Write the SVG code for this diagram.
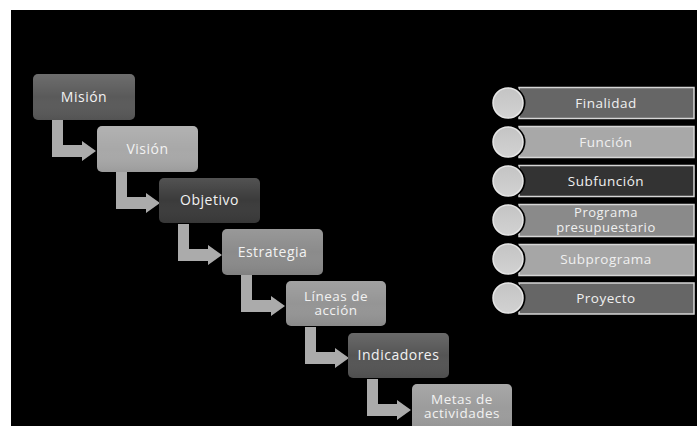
<svg xmlns="http://www.w3.org/2000/svg" width="697" height="426" viewBox="0 0 697 426">
<defs>
<style>
.box{stroke:none}
.lt{font-family:"Open Sans","Liberation Sans",sans-serif;font-size:14px;fill:#f2f2f2;text-anchor:middle;letter-spacing:0.5px}
.lt2{font-family:"Open Sans","Liberation Sans",sans-serif;font-size:13.5px;fill:#f2f2f2;text-anchor:middle;letter-spacing:0.5px}
.rt{font-family:"Open Sans","Liberation Sans",sans-serif;font-size:13.5px;fill:#f0f0f0;text-anchor:middle;letter-spacing:0.5px}
.rt2{font-family:"Open Sans","Liberation Sans",sans-serif;font-size:13px;fill:#f0f0f0;text-anchor:middle;letter-spacing:0.5px}
.arr{fill:#ababab}
.bar{stroke:#d6d6d6;stroke-width:1.5}
.ring{fill:#000}
.circ{fill:url(#cg);stroke:#e6e6e6;stroke-width:1.5}
</style>
<linearGradient id="sh" x1="0" y1="0" x2="0" y2="1">
<stop offset="0" stop-color="#fff" stop-opacity="0.12"/>
<stop offset="0.5" stop-color="#fff" stop-opacity="0"/>
<stop offset="1" stop-color="#000" stop-opacity="0.08"/>
</linearGradient>
<linearGradient id="cg" x1="0" y1="0" x2="0" y2="1">
<stop offset="0" stop-color="#c4c4c4"/>
<stop offset="1" stop-color="#d2d2d2"/>
</linearGradient>
</defs>
<rect x="0" y="0" width="697" height="426" fill="#fff"/>
<rect x="11" y="10" width="686" height="416" fill="#000"/>

<g id="connectors">
<path class="arr" d="M52,120 H63 V145 H82 V141 L96,151 L82,161 V157 H52 Z"/>
<path class="arr" d="M116,172 H127 V197 H146 V193 L160,203 L146,213 V209 H116 Z"/>
<path class="arr" d="M178,224 H189 V249 H208 V245 L222,255 L208,265 V261 H178 Z"/>
<path class="arr" d="M241,275 H252 V300 H271 V296 L285,306 L271,316 V312 H241 Z"/>
<path class="arr" d="M305,327 H316 V352 H335 V348 L349,358 L335,368 V364 H305 Z"/>
<path class="arr" d="M367,379 H378 V404 H397 V400 L411,410 L397,420 V416 H367 Z"/>
</g>

<g id="mision">
<rect class="box" x="33" y="74" width="102" height="46" rx="5" fill="#5a5a5a"/>
<rect x="33" y="74" width="102" height="46" rx="5" fill="url(#sh)"/>
<text class="lt" x="84" y="102">Misión</text>
</g>
<g id="vision">
<rect class="box" x="97" y="126" width="101" height="46" rx="5" fill="#a8a8a8"/>
<rect x="97" y="126" width="101" height="46" rx="5" fill="url(#sh)"/>
<text class="lt" x="147.5" y="154">Visión</text>
</g>
<g id="objetivo">
<rect class="box" x="159" y="178" width="101" height="45" rx="5" fill="#3b3b3b"/>
<rect x="159" y="178" width="101" height="45" rx="5" fill="url(#sh)"/>
<text class="lt" x="209.5" y="205">Objetivo</text>
</g>
<g id="estrategia">
<rect class="box" x="222" y="229" width="101" height="46" rx="5" fill="#8b8b8b"/>
<rect x="222" y="229" width="101" height="46" rx="5" fill="url(#sh)"/>
<text class="lt" x="272.5" y="257">Estrategia</text>
</g>
<g id="lineas">
<rect class="box" x="286" y="281" width="100" height="45" rx="5" fill="#959595"/>
<rect x="286" y="281" width="100" height="45" rx="5" fill="url(#sh)"/>
<text class="lt2" x="336" y="301">Líneas de</text>
<text class="lt2" x="336" y="315">acción</text>
</g>
<g id="indicadores">
<rect class="box" x="348" y="333" width="101" height="45" rx="5" fill="#555555"/>
<rect x="348" y="333" width="101" height="45" rx="5" fill="url(#sh)"/>
<text class="lt" x="398.5" y="360">Indicadores</text>
</g>
<g id="metas">
<rect class="box" x="412" y="384" width="100" height="48" rx="5" fill="#9c9c9c"/>
<rect x="412" y="384" width="100" height="48" rx="5" fill="url(#sh)"/>
<text class="lt2" x="462" y="404">Metas de</text>
<text class="lt2" x="462" y="418">actividades</text>
</g>

<g id="finalidad">
<rect class="bar" x="519" y="87.5" width="175" height="31" fill="#666666"/>
<circle class="ring" cx="508" cy="103" r="17.5"/>
<circle class="circ" cx="508" cy="103" r="15"/>
<text class="rt" x="606" y="108">Finalidad</text>
</g>
<g id="funcion">
<rect class="bar" x="519" y="126.5" width="175" height="31" fill="#a8a8a8"/>
<circle class="ring" cx="508" cy="142" r="17.5"/>
<circle class="circ" cx="508" cy="142" r="15"/>
<text class="rt" x="606" y="147">Función</text>
</g>
<g id="subfuncion">
<rect class="bar" x="519" y="165.5" width="175" height="31" fill="#333333"/>
<circle class="ring" cx="508" cy="181" r="17.5"/>
<circle class="circ" cx="508" cy="181" r="15"/>
<text class="rt" x="606" y="186">Subfunción</text>
</g>
<g id="programa">
<rect class="bar" x="519" y="204.5" width="175" height="32" fill="#8a8a8a"/>
<circle class="ring" cx="508" cy="220" r="17.5"/>
<circle class="circ" cx="508" cy="220" r="15"/>
<text class="rt2" x="606" y="217">Programa</text>
<text class="rt2" x="606" y="231.5">presupuestario</text>
</g>
<g id="subprograma">
<rect class="bar" x="519" y="244.5" width="175" height="31" fill="#a6a6a6"/>
<circle class="ring" cx="508" cy="259" r="17.5"/>
<circle class="circ" cx="508" cy="259" r="15"/>
<text class="rt" x="606" y="264">Subprograma</text>
</g>
<g id="proyecto">
<rect class="bar" x="519" y="283" width="175" height="31" fill="#666666"/>
<circle class="ring" cx="508" cy="298" r="17.5"/>
<circle class="circ" cx="508" cy="298" r="15"/>
<text class="rt" x="606" y="303">Proyecto</text>
</g>
</svg>
